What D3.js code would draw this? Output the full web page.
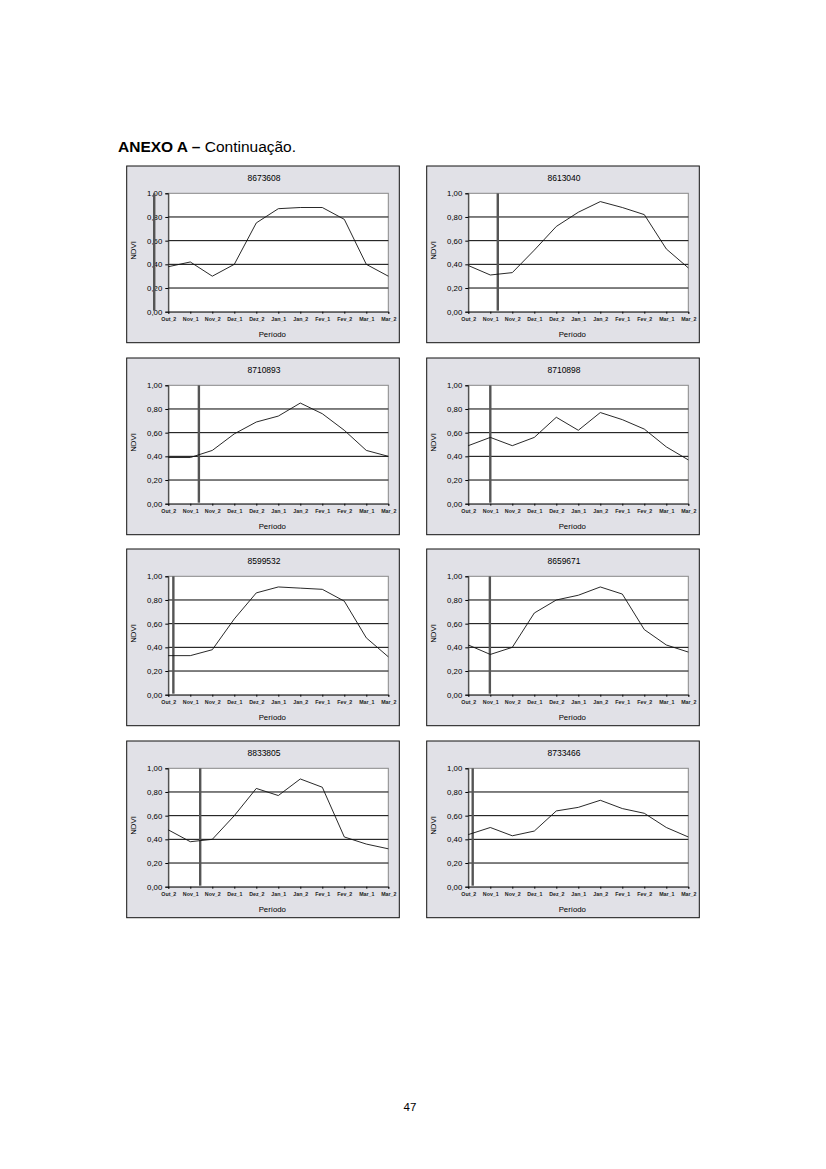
<!DOCTYPE html>
<html lang="pt">
<head>
    <meta charset="UTF-8">
    <title>ANEXO A - Continuação</title>
    <script src="https://d3js.org/d3.v7.min.js"></script>
    <style>
        body { margin: 0; background: white; }
        .page-title { font: 15.5px "Liberation Sans", Arial, sans-serif; fill: black; }
        .chart-title { font: 8.5px "Liberation Sans", Arial, sans-serif; text-anchor: middle; }
        .y-axis text { font: 7.8px "Liberation Sans", Arial, sans-serif; }
        .x-axis text { font: bold 5.3px "Liberation Sans", Arial, sans-serif; fill: #222; }
        .axis-label { font: 7.8px "Liberation Sans", Arial, sans-serif; text-anchor: middle; }
        .page-num { font: 11.5px "Liberation Sans", Arial, sans-serif; text-anchor: middle; }
    </style>
</head>
<body>
<svg width="826" height="1169"></svg>
<script>
    // periods on the x axis
    const periods = ["Out_2", "Nov_1", "Nov_2", "Dez_1", "Dez_2", "Jan_1", "Jan_2", "Fev_1", "Fev_2", "Mar_1", "Mar_2"];
    const yTicks = [0, 0.2, 0.4, 0.6, 0.8, 1.0];

    // station ids, in reading order
    const stations = ["8673608", "8613040", "8710893", "8710898", "8599532", "8659671", "8833805", "8733466"];

    // NDVI per station
    const ndvi8673608 = [0.38, 0.42, 0.30, 0.40, 0.75, 0.87, 0.88, 0.88, 0.78, 0.40, 0.30];
    const ndvi8613040 = [0.39, 0.31, 0.33, 0.52, 0.72, 0.84, 0.93, 0.88, 0.82, 0.53, 0.37];
    const ndvi8710893 = [0.39, 0.39, 0.45, 0.59, 0.69, 0.74, 0.85, 0.76, 0.62, 0.45, 0.40];
    const ndvi8710898 = [0.49, 0.56, 0.49, 0.56, 0.73, 0.62, 0.77, 0.71, 0.63, 0.48, 0.37];
    const ndvi8599532 = [0.33, 0.33, 0.38, 0.64, 0.86, 0.91, 0.90, 0.89, 0.79, 0.48, 0.32];
    const ndvi8659671 = [0.42, 0.34, 0.40, 0.69, 0.80, 0.84, 0.91, 0.85, 0.55, 0.42, 0.36];
    const ndvi8833805 = [0.48, 0.38, 0.40, 0.60, 0.83, 0.77, 0.91, 0.84, 0.42, 0.36, 0.32];
    const ndvi8733466 = [0.44, 0.50, 0.43, 0.47, 0.64, 0.67, 0.73, 0.66, 0.62, 0.50, 0.42];

    // position of the vertical marker bar, in period units (0 = Out_2)
    const markerPos = [-0.64, 1.34, 1.39, 1.0, 0.23, 0.98, 1.45, 0.2];

    const series = [ndvi8673608, ndvi8613040, ndvi8710893, ndvi8710898,
                    ndvi8599532, ndvi8659671, ndvi8833805, ndvi8733466];

    const svg = d3.select("svg");

    // page heading
    const head = svg.append("text").attr("class", "page-title")
        .attr("x", 118).attr("y", 152);
    head.append("tspan").attr("font-weight", "bold").text("ANEXO A \u2013 ");
    head.append("tspan").text("Continuação.");

    const boxW = 272.6, boxH = 176.7;
    const colX = [126.7, 426.7];
    const rowY = [166, 358, 549, 741];
    const plot = {left: 41.6, top: 27.3, width: 220, height: 118.4};

    const x = d3.scaleLinear().domain([0, periods.length - 1]).range([0, plot.width]);
    const y = d3.scaleLinear().domain([0, 1]).range([plot.height, 0]);
    const fmt = d => d3.format(".2f")(d).replace(".", ",");

    stations.forEach((st, i) => {
        const g = svg.append("g")
            .attr("transform", `translate(${colX[i % 2]},${rowY[Math.floor(i / 2)]})`);

        g.append("rect")
            .attr("width", boxW).attr("height", boxH)
            .attr("fill", "#e1e1e7").attr("stroke", "#111").attr("stroke-width", 1);

        g.append("text").attr("class", "chart-title")
            .attr("x", boxW / 2 + 1).attr("y", 15).text(st);

        const p = g.append("g").attr("transform", `translate(${plot.left},${plot.top})`);

        p.append("rect")
            .attr("width", plot.width).attr("height", plot.height)
            .attr("fill", "white").attr("stroke", "#888").attr("stroke-width", 1);

        // gridlines
        p.selectAll(".grid")
            .data(yTicks.filter(t => t > 0 && t < 1))
            .enter().append("line")
            .attr("x1", 0).attr("x2", plot.width)
            .attr("y1", d => y(d)).attr("y2", d => y(d))
            .attr("stroke", "black").attr("stroke-width", 1);

        // y axis
        p.append("g").attr("class", "y-axis")
            .call(d3.axisLeft(y).tickValues(yTicks).tickFormat(fmt).tickSize(3).tickPadding(3))
            .call(a => a.select(".domain").attr("stroke", "#333"));

        // x axis
        p.append("g").attr("class", "x-axis")
            .attr("transform", `translate(0,${plot.height})`)
            .call(d3.axisBottom(x).tickValues(d3.range(periods.length))
                .tickFormat(k => periods[k]).tickSize(2).tickPadding(4))
            .call(a => a.select(".domain").attr("stroke", "#333"));

        // marker bar
        p.append("line")
            .attr("x1", x(markerPos[i])).attr("x2", x(markerPos[i]))
            .attr("y1", 0).attr("y2", plot.height - 1)
            .attr("stroke", "#555").attr("stroke-width", 2.4);

        // NDVI line
        p.append("path")
            .datum(series[i])
            .attr("fill", "none").attr("stroke", "#111").attr("stroke-width", 0.9)
            .attr("d", d3.line().x((d, k) => x(k)).y(d => y(d)));

        g.append("text").attr("class", "axis-label")
            .attr("x", plot.left + plot.width / 2 - 6).attr("y", 171).text("Período");

        g.append("text").attr("class", "axis-label")
            .attr("transform", `translate(9,${plot.top + plot.height / 2 - 2}) rotate(-90)`)
            .text("NDVI");
    });

    svg.append("text").attr("class", "page-num")
        .attr("x", 410).attr("y", 1111).text("47");
</script>
</body>
</html>
